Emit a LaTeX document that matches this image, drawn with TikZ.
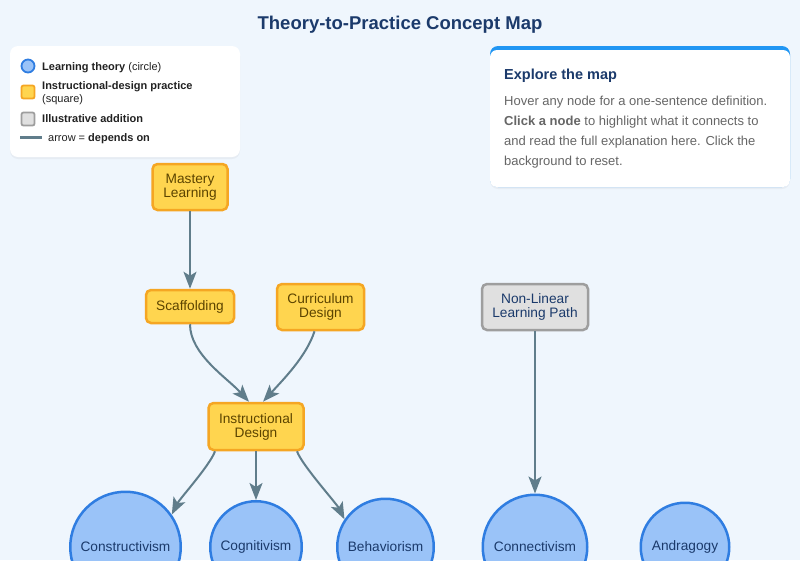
\documentclass[tikz,border=0pt]{standalone}
\usepackage{fontspec}
\setmainfont{Liberation Sans}
\usetikzlibrary{arrows.meta,shadows}
\definecolor{pageBg}{HTML}{EFF6FD}
\definecolor{titleC}{HTML}{1B3A6B}
\definecolor{thFill}{HTML}{9AC3F8}
\definecolor{thLine}{HTML}{2F7DE1}
\definecolor{prFill}{HTML}{FFD54F}
\definecolor{prLine}{HTML}{F5A623}
\definecolor{prText}{HTML}{5C4400}
\definecolor{adFill}{HTML}{E0E0E0}
\definecolor{adLine}{HTML}{9E9E9E}
\definecolor{depC}{HTML}{607D8B}
\definecolor{accentC}{HTML}{2196F3}
\definecolor{mutedc}{HTML}{666666}
\definecolor{legendC}{HTML}{222222}

\begin{document}
\begin{tikzpicture}[x=1pt,y=-1pt,
    theory/.style={circle,draw=thLine,fill=thFill,line width=2.5pt,inner sep=0pt,
      text=titleC,font=\fontsize{13.7}{14}\selectfont},
    practice/.style={draw=prLine,fill=prFill,line width=2.5pt,rounded corners=5pt,inner sep=0pt,
      text=prText,align=center,font=\fontsize{13.7}{14}\selectfont},
    addition/.style={practice,draw=adLine,fill=adFill,text=titleC},
    dep/.style={draw=depC,line width=2pt,-{Stealth[length=17pt,width=13pt,inset=4pt]}},
    card/.style={fill=white,rounded corners=8pt,
      drop shadow={opacity=0.08,shadow xshift=0pt,shadow yshift=-2pt}},
    legend/.style={anchor=base west,inner sep=0pt,text=legendC,font=\fontsize{11}{13}\selectfont}]
    \useasboundingbox (0,0) rectangle (800,560);
    \clip (0,0) rectangle (800,560);
    \fill[pageBg] (0,0) rectangle (800,560);
    \node[anchor=base,text=titleC,font=\fontsize{18.5}{20}\selectfont\bfseries] (title) at (400,29.5)
      {Theory-to-Practice Concept Map};

    \path[card] (10,46) rectangle (240,157);
    \node[theory,line width=1.8pt,minimum size=13pt] (lgTheory) at (28,66) {};
    \node[practice,line width=1.8pt,rounded corners=2pt,minimum size=13pt] (lgPractice) at (28,92) {};
    \node[addition,line width=1.8pt,rounded corners=2pt,minimum size=13pt] (lgAddition) at (28,119) {};
    \draw[depC,line width=3pt] (20,137.5) coordinate (lgA) -- (42,137.5) coordinate (lgB);
    \node[legend] (lgTheoryTxt) at (42,70) {\textbf{Learning theory} (circle)};
    \node[legend] (lgPracticeTxt) at (42,89) {\textbf{Instructional-design practice}};
    \node[legend] (lgSquareTxt) at (42,102.5) {(square)};
    \node[legend] (lgAdditionTxt) at (42,122.5) {\textbf{Illustrative addition}};
    \node[legend] (lgArrowTxt) at (48,141.5) {arrow = \textbf{depends on}};

    \path[card,fill=accentC] (490,46) rectangle (790,187);
    \fill[white,rounded corners=7pt] (490,50) rectangle (790,187);
    \node[anchor=base west,inner sep=0pt,text=titleC,font=\fontsize{14.5}{16}\selectfont\bfseries] (infoTitle)
      at (504,79.5) {Explore the map};
    \foreach \i/\line in {0/{Hover any node for a one-sentence definition.},
      1/{\textbf{Click a node} to highlight what it connects to},
      2/{and read the full explanation here. Click the},
      3/{background to reset.}}{
      \node[anchor=base west,inner sep=0pt,text=mutedc,font=\fontsize{13}{16}\selectfont] (info\i)
        at (504,105+20*\i) {\line};}

    \foreach \name/\x/\y/\w/\h/\txt in {%
      mastery/190/187/75/46/{Mastery\\Learning}, scaf/190/306.5/88/33/Scaffolding,
      curr/320.5/307/87/46/{Curriculum\\Design}, instr/256/426.5/95/47/{Instructional\\Design}}{
      \node[practice,minimum width=\w,minimum height=\h] (\name) at (\x,\y) {\txt};}
    \node[addition,minimum width=106,minimum height=46] (nonlin) at (535,307) {Non-Linear\\Learning Path};

    \foreach \name/\x/\r/\txt in {%
      constr/125.5/56.5/Constructivism, cogn/256/47/Cognitivism, behav/385.5/49.5/Behaviorism,
      conn/535/53.5/Connectivism, andra/685/45.5/Andragogy}{
      \node[theory,minimum size=2*\r-2.5] (\name) at (\x,547) {\txt};}

    \draw[dep] (mastery) -- (scaf);
    \draw[dep] (scaf.south) .. controls +(0,30) and +(-22,-24) .. ([xshift=-7]instr.north);
    \draw[dep] ([xshift=-6]curr.south) .. controls +(-8,25) and +(20,-22) .. ([xshift=7]instr.north);
    \draw[dep] ([xshift=-41]instr.south) .. controls +(-5,14) and +(8,-16) .. (constr.35);
    \draw[dep] (instr) -- (cogn);
    \draw[dep] ([xshift=41]instr.south) .. controls +(5,14) and +(-8,-16) .. (behav.146);
    \draw[dep] (nonlin) -- (conn);
  \end{tikzpicture}
\end{document}
